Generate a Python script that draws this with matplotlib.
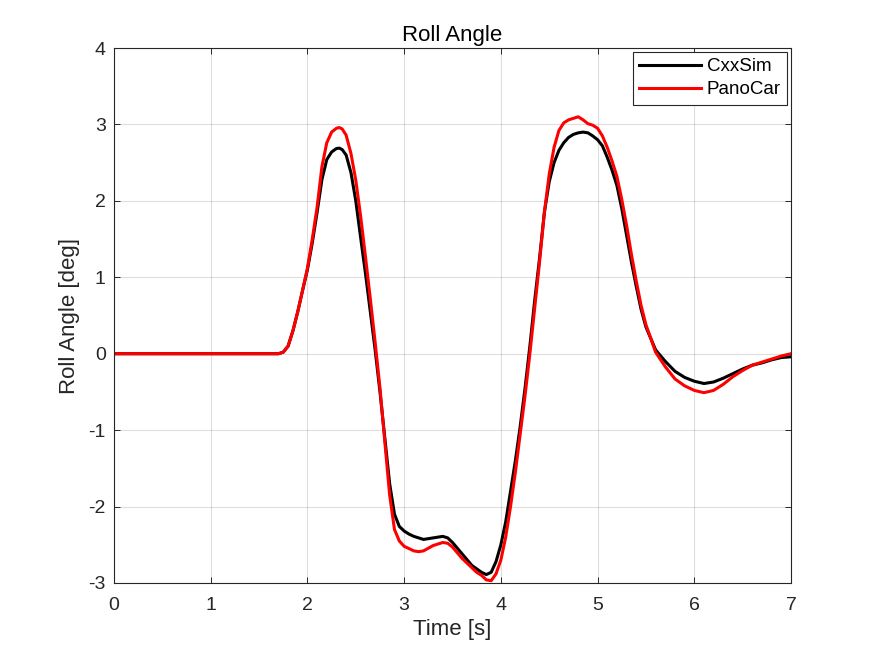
import matplotlib
matplotlib.use("Agg")
import matplotlib.pyplot as plt

# Roll angle traces
t_cxx = [0.0, 1.6, 1.7, 1.75, 1.8, 1.85, 1.9, 1.95, 2.0, 2.05, 2.1, 2.15, 2.2,
         2.25, 2.3, 2.33, 2.36, 2.4, 2.45, 2.5, 2.55, 2.6, 2.65, 2.7, 2.75,
         2.8, 2.85, 2.9, 2.95, 3.0, 3.05, 3.1, 3.2, 3.3, 3.4, 3.45, 3.5, 3.6,
         3.7, 3.8, 3.85, 3.9, 3.95, 4.0, 4.05, 4.1, 4.15, 4.2, 4.25, 4.3,
         4.35, 4.4, 4.45, 4.5, 4.55, 4.6, 4.65, 4.7, 4.75, 4.8, 4.85, 4.9,
         4.95, 5.0, 5.05, 5.1, 5.15, 5.2, 5.25, 5.3, 5.35, 5.4, 5.45, 5.5,
         5.6, 5.7, 5.8, 5.9, 6.0, 6.1, 6.2, 6.3, 6.4, 6.5, 6.6, 6.7, 6.8,
         6.9, 7.0]
roll_cxx = [0.0, 0.0, 0.0, 0.02, 0.1, 0.3, 0.55, 0.83, 1.1, 1.45, 1.85, 2.28,
            2.54, 2.64, 2.685, 2.69, 2.67, 2.6, 2.37, 2.0, 1.52, 1.05, 0.55,
            0.05, -0.5, -1.1, -1.7, -2.1, -2.26, -2.32, -2.36, -2.39, -2.43,
            -2.41, -2.39, -2.41, -2.47, -2.62, -2.77, -2.86, -2.89, -2.86,
            -2.72, -2.5, -2.2, -1.8, -1.4, -0.95, -0.45, 0.1, 0.7, 1.25, 1.85,
            2.25, 2.5, 2.66, 2.76, 2.83, 2.87, 2.89, 2.9, 2.89, 2.85, 2.8,
            2.72, 2.57, 2.4, 2.2, 1.9, 1.55, 1.2, 0.88, 0.58, 0.35, 0.05,
            -0.1, -0.23, -0.31, -0.36, -0.39, -0.37, -0.32, -0.26, -0.2,
            -0.15, -0.12, -0.08, -0.05, -0.04]

t_pano = [0.0, 1.7, 1.75, 1.8, 1.85, 1.9, 1.95, 2.0, 2.05, 2.1, 2.15, 2.2,
          2.25, 2.3, 2.33, 2.36, 2.4, 2.45, 2.5, 2.55, 2.6, 2.65, 2.7, 2.75,
          2.8, 2.85, 2.9, 2.95, 3.0, 3.05, 3.1, 3.15, 3.2, 3.3, 3.4, 3.45,
          3.5, 3.6, 3.7, 3.75, 3.8, 3.85, 3.9, 3.95, 4.0, 4.05, 4.1, 4.15,
          4.2, 4.25, 4.3, 4.35, 4.4, 4.45, 4.5, 4.55, 4.6, 4.65, 4.7, 4.75,
          4.8, 4.85, 4.9, 4.95, 5.0, 5.05, 5.1, 5.15, 5.2, 5.25, 5.3, 5.35,
          5.4, 5.45, 5.5, 5.6, 5.7, 5.8, 5.9, 6.0, 6.1, 6.2, 6.3, 6.4, 6.5,
          6.6, 6.7, 6.8, 6.9, 7.0]
roll_pano = [0.0, 0.0, 0.02, 0.1, 0.3, 0.55, 0.83, 1.12, 1.5, 1.92, 2.45,
             2.76, 2.9, 2.95, 2.96, 2.94, 2.86, 2.62, 2.27, 1.8, 1.27, 0.72,
             0.15, -0.45, -1.15, -1.85, -2.3, -2.45, -2.52, -2.55, -2.58,
             -2.59, -2.58, -2.51, -2.47, -2.48, -2.53, -2.68, -2.8, -2.86,
             -2.9, -2.96, -2.97, -2.88, -2.7, -2.4, -2.0, -1.55, -1.05,
             -0.55, 0.0, 0.6, 1.2, 1.85, 2.35, 2.7, 2.92, 3.02, 3.06, 3.08,
             3.1, 3.06, 3.01, 2.99, 2.95, 2.85, 2.7, 2.52, 2.32, 2.02, 1.68,
             1.3, 0.95, 0.63, 0.38, 0.02, -0.17, -0.33, -0.42, -0.48, -0.51,
             -0.48, -0.4, -0.3, -0.22, -0.15, -0.11, -0.07, -0.03, 0.0]

x_ticks = [0, 1, 2, 3, 4, 5, 6, 7]
y_ticks = [-3, -2, -1, 0, 1, 2, 3, 4]

plt.rcParams["font.family"] = ["Liberation Sans", "DejaVu Sans"]
plt.rcParams["axes.unicode_minus"] = False

axcol = "#262626"
fig = plt.figure(figsize=(8.75, 6.56), dpi=100)
ax = fig.add_axes([0.1303, 0.1113, 0.7737, 0.8155])

ax.plot(t_cxx, roll_cxx, color="black", lw=2.2, label="CxxSim")
ax.plot(t_pano, roll_pano, color="red", lw=2.2, label="PanoCar")

ax.set_xlim(0, 7)
ax.set_ylim(-3, 4)
ax.set_xticks(x_ticks)
ax.set_yticks(y_ticks)
ax.grid(True, color=axcol, alpha=0.15, lw=0.8)
ax.set_axisbelow(True)
ax.tick_params(direction="in", length=4.3, width=0.7, colors=axcol,
               labelsize=14, top=True, right=True)
ax.tick_params(axis="x", pad=10)
ax.tick_params(axis="y", pad=6)
for sp in ax.spines.values():
    sp.set_color(axcol)
    sp.set_linewidth(0.8)

ax.set_xlabel("Time [s]", fontsize=16, color=axcol, labelpad=4)
ax.set_ylabel("Roll Angle [deg]", fontsize=16, color=axcol, labelpad=6)
ax.set_title("Roll Angle", fontsize=16, color="black", pad=5)

leg = ax.legend(loc="upper right", fontsize=13.5, fancybox=False,
                edgecolor=axcol, framealpha=1, borderaxespad=0.2,
                handlelength=3.3, handletextpad=0.3, borderpad=0.35,
                labelspacing=0.3)
leg.get_frame().set_linewidth(0.8)

fig.savefig("out.png", dpi=100)
